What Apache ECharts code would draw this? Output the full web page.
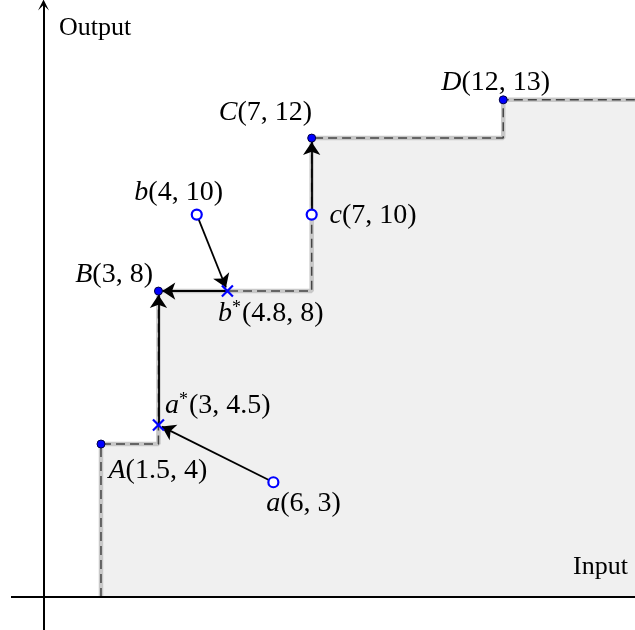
<!DOCTYPE html>
<html>
<head>
<meta charset="utf-8">
<script src="https://cdn.jsdelivr.net/npm/echarts@6/dist/echarts.min.js"></script>
<style>
  html, body { margin: 0; padding: 0; background: #fff; }
  #chart { width: 635px; height: 630px; }
</style>
</head>
<body>
<div id="chart"></div>
<script>
(function () {
    "use strict";

    // frontier corner points (observed units)
    var frontierNames = ['A', 'B', 'C', 'D'];
    var frontierX = [1.5, 3, 7, 12];
    var frontierY = [4, 8, 12, 13];

    // observed (inefficient) units
    var unitNames = ['a', 'b', 'c'];
    var unitX = [6, 4, 7];
    var unitY = [3, 10, 10];

    // projections onto the frontier
    var projNames = ['a*', 'b*'];
    var projX = [3, 4.8];
    var projY = [4.5, 8];

    // staircase of the free disposal hull
    var hullX = [1.5, 1.5, 3, 3, 7, 7, 12, 12, 16];
    var hullY = [0, 4, 4, 8, 8, 12, 12, 13, 13];

    // arrows: from -> to (by point name)
    var arrowFrom = ['a', 'b', 'b*', 'a*', 'c'];
    var arrowTo = ['a*', 'b*', 'B', 'B', 'C'];

    // axis extent
    var xMin = -0.849, xMax = 15.44;
    var yMin = -0.863, yMax = 15.48;

    // label placement, pixels relative to the point
    var labelPos = {
        'A':  { dx: 8,   dy: 27,  align: 'left' },
        'B':  { dx: -5,  dy: -16, align: 'right' },
        'C':  { dx: 1,   dy: -25, align: 'right' },
        'D':  { dx: -7,  dy: -17, align: 'center' },
        'a':  { dx: -6,  dy: 22,  align: 'left' },
        'b':  { dx: -17, dy: -21, align: 'center' },
        'c':  { dx: 19,  dy: 2,   align: 'left' },
        'a*': { dx: 9,   dy: -17, align: 'left' },
        'b*': { dx: -7,  dy: 25,  align: 'left' }
    };

    var dom = document.getElementById("chart");
    var myChart = echarts.init(dom);
    var option = null;

    var serif = "'Liberation Serif', 'DejaVu Serif', serif";
    var rich = {
        it: { fontFamily: serif, fontStyle: 'italic', fontSize: 28, color: '#000' },
        rm: { fontFamily: serif, fontSize: 28, color: '#000' },
        sup: { fontFamily: serif, fontSize: 18, color: '#000', verticalAlign: 'top', padding: [0, 1, 0, 0] }
    };

    var allPts = {};
    function collect(names, xs, ys) {
        names.forEach(function (n, i) { allPts[n] = [xs[i], ys[i]]; });
    }
    collect(frontierNames, frontierX, frontierY);
    collect(unitNames, unitX, unitY);
    collect(projNames, projX, projY);

    function pointData(names, xs, ys, size) {
        return names.map(function (n, i) {
            var p = labelPos[n];
            var letter = n.charAt(0);
            var star = n.length > 1 ? '{sup|*}' : '';
            return {
                name: n,
                value: [xs[i], ys[i]],
                label: {
                    show: true,
                    position: [size / 2 + p.dx, size / 2 + p.dy],
                    align: p.align,
                    verticalAlign: 'middle',
                    formatter: '{it|' + letter + '}' + star + '{rm|(' + xs[i] + ', ' + ys[i] + ')}',
                    rich: rich
                }
            };
        });
    }

    var hullData = hullX.map(function (x, i) { return [x, hullY[i]]; });

    var arrowData = arrowFrom.map(function (f, i) {
        var a = allPts[f], b = allPts[arrowTo[i]];
        var dx = b[0] - a[0], dy = b[1] - a[1];
        var len = Math.sqrt(dx * dx + dy * dy);
        var trim = 0.1;
        return { coords: [a, [b[0] - dx / len * trim, b[1] - dy / len * trim]] };
    });

    option = {
        animation: false,
        grid: { left: 0, right: 0, top: 0, bottom: 0 },
        xAxis: {
            type: 'value',
            min: xMin - 11 / 38.3,
            max: xMax,
            show: false
        },
        yAxis: {
            type: 'value',
            min: yMin,
            max: yMax + 5 / 38.25,
            show: false
        },
        graphic: [
            { type: 'text', left: 59, top: 15, style: { text: 'Output', font: '26px ' + serif, fill: '#000' }, z: 100 },
            { type: 'text', right: 7, top: 554, style: { text: 'Input', font: '26px ' + serif, fill: '#000' }, z: 100 }
        ],
        series: [
            {
                type: 'line',
                data: hullData,
                symbol: 'none',
                z: 1,
                lineStyle: { color: '#c8c8c8', width: 4.5 },
                areaStyle: { color: '#f0f0f0', opacity: 1, origin: 'auto' }
            },
            {
                type: 'line',
                data: hullData,
                symbol: 'none',
                z: 2,
                lineStyle: { color: '#444', width: 1.5, type: [9, 5] }
            },
            {
                // horizontal axis
                type: 'lines',
                coordinateSystem: 'cartesian2d',
                z: 3,
                symbol: ['none', 'none'],
                lineStyle: { color: '#000', width: 2, opacity: 1 },
                data: [{ coords: [[xMin, 0], [xMax + 1, 0]] }]
            },
            {
                // vertical axis with arrow
                type: 'lines',
                coordinateSystem: 'cartesian2d',
                z: 3,
                symbol: ['none', 'path://M0,10 L5,0 L10,10 L5,5 Z'],
                symbolSize: 11,
                lineStyle: { color: '#000', width: 2, opacity: 1 },
                data: [{ coords: [[0, yMin - 1], [0, yMax]] }]
            },
            {
                type: 'lines',
                coordinateSystem: 'cartesian2d',
                z: 3,
                symbol: ['none', 'arrow'],
                symbolSize: 13,
                lineStyle: { color: '#000', width: 1.8, opacity: 1 },
                data: arrowData
            },
            {
                type: 'scatter',
                z: 5,
                symbol: 'circle',
                symbolSize: 8,
                itemStyle: { color: '#0000ff', borderColor: '#000044', borderWidth: 1, opacity: 1 },
                data: pointData(frontierNames, frontierX, frontierY, 8)
            },
            {
                type: 'scatter',
                z: 5,
                symbol: 'circle',
                symbolSize: 10,
                itemStyle: { color: '#fff', borderColor: '#0000ff', borderWidth: 2.2, opacity: 1 },
                data: pointData(unitNames, unitX, unitY, 10)
            },
            {
                type: 'scatter',
                z: 5,
                symbol: 'path://M0,0 L10,10 M10,0 L0,10',
                symbolSize: 11,
                itemStyle: { color: 'none', borderColor: '#0000ff', borderWidth: 2.2, opacity: 1 },
                data: pointData(projNames, projX, projY, 11)
            }
        ]
    };

    if (option && typeof option === "object") {
        myChart.setOption(option, true);
    }
})();
</script>
</body>
</html>
